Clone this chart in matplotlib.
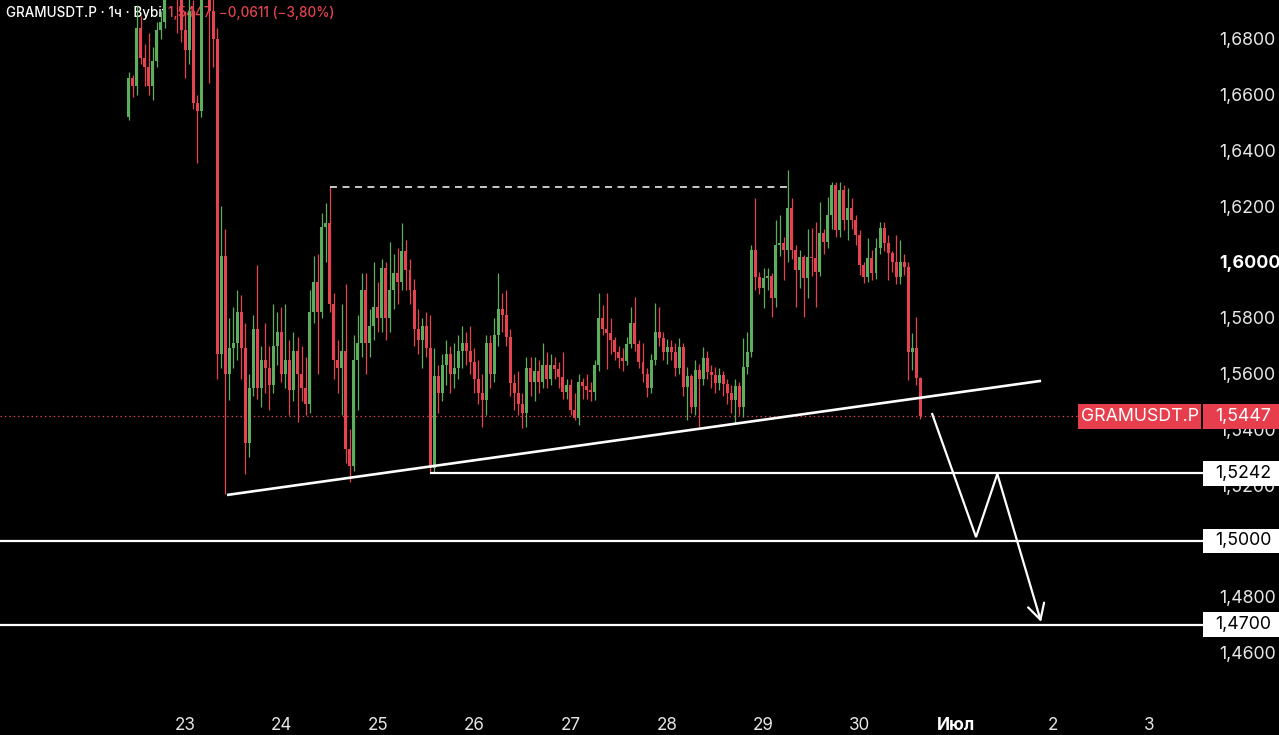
import numpy as np
import matplotlib
matplotlib.use('Agg')
import matplotlib.pyplot as plt
from matplotlib.patches import Rectangle
import matplotlib.transforms as mtransforms

plt.rcParams['font.family'] = ['Inter', 'DejaVu Sans']
plt.rcParams['lines.scale_dashes'] = False

# ---------------- data (hourly candles, hour 0 = 23 June 00:00) ----------------
first_open = 1.652
closes = [
    1.666, 1.663, 1.684, 1.673, 1.670, 1.663, 1.672, 1.683, 1.686, 1.697,
    1.704, 1.707, 1.698, 1.683,
    1.676, 1.690, 1.657, 1.654, 1.700, 1.705, 1.690, 1.680, 1.567, 1.602,
    1.560, 1.569, 1.571, 1.582, 1.569, 1.535, 1.555, 1.576, 1.555, 1.565,
    1.562, 1.556, 1.570, 1.575, 1.560, 1.565, 1.554, 1.568, 1.560, 1.555,
    1.549, 1.582, 1.593, 1.582, 1.6125, 1.614, 1.585, 1.565, 1.562, 1.568,
    1.533, 1.527, 1.565, 1.571, 1.590, 1.571, 1.577, 1.584, 1.580, 1.598,
    1.580, 1.590, 1.596, 1.593, 1.604, 1.597, 1.590, 1.576, 1.572, 1.577,
    1.569, 1.526, 1.559, 1.553, 1.563, 1.567, 1.560, 1.562, 1.568, 1.571,
    1.568, 1.564, 1.558, 1.553, 1.5505, 1.571, 1.560, 1.574, 1.583, 1.581,
    1.573, 1.5565, 1.553, 1.549, 1.546, 1.562, 1.557, 1.561, 1.557, 1.563,
    1.558, 1.563, 1.5615, 1.5588, 1.5534, 1.556, 1.547, 1.544, 1.557, 1.5557,
    1.554, 1.5535, 1.563, 1.580, 1.576, 1.5745, 1.572, 1.5677, 1.5656, 1.5645,
    1.5705, 1.578, 1.5705, 1.5642, 1.560, 1.5548, 1.5649, 1.575, 1.5728, 1.5677,
    1.5695, 1.5677, 1.562, 1.5695, 1.5552, 1.559, 1.548, 1.5613, 1.558, 1.5656,
    1.5605, 1.5595, 1.5566, 1.5595, 1.5563, 1.553, 1.5505, 1.5555, 1.548, 1.5623,
    1.5677, 1.6043, 1.5946, 1.5907, 1.5943, 1.595, 1.587, 1.6061, 1.6068, 1.6043,
    1.6194, 1.6043, 1.5971, 1.6018, 1.5943, 1.6018, 1.6014, 1.5964, 1.6104, 1.6072,
    1.6168, 1.6276, 1.6115, 1.6258, 1.6150, 1.6194, 1.6151, 1.6097, 1.5989, 1.5946,
    1.6014, 1.5961, 1.605, 1.6122, 1.6068, 1.6032, 1.600, 1.5946, 1.600, 1.5982,
    1.5677, 1.5690, 1.5584, 1.5447,
]
highs = [
    1.668, 1.667, 1.692, 1.688, 1.678, 1.682, 1.677, 1.686, 1.690, 1.703,
    1.712, 1.715, 1.710, 1.700,
    1.690, 1.699, 1.694, 1.660, 1.712, 1.715, 1.712, 1.700, 1.684, 1.620,
    1.612, 1.580, 1.584, 1.590, 1.588, 1.578, 1.560, 1.581, 1.599, 1.570,
    1.578, 1.570, 1.585, 1.582, 1.584, 1.585, 1.572, 1.575, 1.573, 1.570,
    1.566, 1.590, 1.602, 1.603, 1.6175, 1.621, 1.627, 1.589, 1.572, 1.585,
    1.592, 1.540, 1.574, 1.581, 1.596, 1.596, 1.583, 1.600, 1.593, 1.601,
    1.600, 1.607, 1.603, 1.605, 1.614, 1.608, 1.601, 1.594, 1.583, 1.580,
    1.582, 1.581, 1.569, 1.563, 1.567, 1.572, 1.570, 1.571, 1.574, 1.577,
    1.575, 1.577, 1.569, 1.565, 1.560, 1.574, 1.574, 1.580, 1.596, 1.589,
    1.590, 1.576, 1.560, 1.561, 1.553, 1.566, 1.566, 1.566, 1.565, 1.571,
    1.5677, 1.567, 1.566, 1.564, 1.5677, 1.558, 1.558, 1.553, 1.560, 1.5584,
    1.560, 1.557, 1.565, 1.589, 1.5845, 1.589, 1.580, 1.573, 1.570, 1.569,
    1.573, 1.5839, 1.5875, 1.572, 1.571, 1.562, 1.567, 1.5853, 1.5838, 1.575,
    1.5724, 1.572, 1.571, 1.5728, 1.571, 1.5625, 1.560, 1.565, 1.5635, 1.5695,
    1.568, 1.563, 1.5625, 1.562, 1.561, 1.558, 1.556, 1.558, 1.557, 1.5728,
    1.575, 1.6061, 1.623, 1.5964, 1.598, 1.598, 1.596, 1.6151, 1.6168, 1.609,
    1.6330, 1.6229, 1.606, 1.6043, 1.6025, 1.612, 1.6122, 1.6143, 1.6215, 1.612,
    1.6233, 1.6287, 1.6287, 1.6287, 1.6276, 1.6265, 1.623, 1.617, 1.6115, 1.600,
    1.6086, 1.6043, 1.6086, 1.6143, 1.6143, 1.6097, 1.604, 1.6097, 1.6079, 1.603,
    1.600, 1.5745, 1.5803, 1.5588,
]
lows = [
    1.651, 1.659, 1.660, 1.671, 1.663, 1.660, 1.658, 1.670, 1.680, 1.684,
    1.695, 1.699, 1.682, 1.679,
    1.666, 1.671, 1.655, 1.6355, 1.652, 1.695, 1.664, 1.670, 1.558, 1.562,
    1.517, 1.5505, 1.562, 1.565, 1.558, 1.524, 1.530, 1.552, 1.551, 1.548,
    1.553, 1.547, 1.553, 1.563, 1.557, 1.555, 1.545, 1.550, 1.5425, 1.550,
    1.545, 1.546, 1.578, 1.560, 1.580, 1.600, 1.582, 1.558, 1.553, 1.545,
    1.528, 1.521, 1.525, 1.547, 1.566, 1.560, 1.566, 1.572, 1.575, 1.575,
    1.572, 1.575, 1.583, 1.585, 1.590, 1.590, 1.585, 1.570, 1.567, 1.562,
    1.566, 1.5242, 1.5242, 1.546, 1.550, 1.556, 1.553, 1.555, 1.558, 1.562,
    1.563, 1.560, 1.553, 1.549, 1.541, 1.545, 1.555, 1.557, 1.570, 1.575,
    1.570, 1.552, 1.547, 1.545, 1.5405, 1.541, 1.552, 1.550, 1.553, 1.555,
    1.555, 1.556, 1.558, 1.555, 1.551, 1.551, 1.545, 1.5434, 1.5416, 1.551,
    1.551, 1.550, 1.5505, 1.561, 1.574, 1.5615, 1.567, 1.565, 1.562, 1.561,
    1.563, 1.569, 1.568, 1.562, 1.557, 1.5516, 1.553, 1.563, 1.570, 1.565,
    1.5634, 1.565, 1.559, 1.560, 1.552, 1.5434, 1.546, 1.545, 1.541, 1.556,
    1.558, 1.555, 1.553, 1.554, 1.552, 1.549, 1.546, 1.5423, 1.545, 1.5445,
    1.560, 1.566, 1.590, 1.5885, 1.5835, 1.590, 1.5803, 1.584, 1.602, 1.5935,
    1.600, 1.601, 1.584, 1.5907, 1.5803, 1.587, 1.595, 1.5839, 1.595, 1.603,
    1.605, 1.612, 1.609, 1.609, 1.6115, 1.6079, 1.612, 1.606, 1.5955, 1.5925,
    1.593, 1.5935, 1.594, 1.603, 1.604, 1.5935, 1.5964, 1.592, 1.592, 1.5955,
    1.5577, 1.5613, 1.556, 1.5437,
]
first_hour = -14
hours = np.arange(first_hour, first_hour + len(closes))
opens = [first_open] + closes[:-1]

day_ticks = [0, 24, 48, 72, 96, 120, 144, 168, 192, 216, 240]
day_labels = ['23', '24', '25', '26', '27', '28', '29', '30', 'Июл', '2', '3']
price_ticks = [1.46, 1.48, 1.50, 1.52, 1.54, 1.56, 1.58, 1.60, 1.62, 1.64, 1.66, 1.68]

level_values = [1.5242, 1.5000, 1.4700]
level_starts = [61.0, None, None]
last_price = 1.5447
symbol = 'GRAMUSDT.P'
title_left = 'GRAMUSDT.P · 1ч · Bybit'
title_right = '1,5447  −0,0611 (−3,80%)'

trend_x = [10.46, 213.1]
trend_y = [1.5165, 1.5574]
range_top = 1.627
range_x = [36.1, 150.1]
arrow_x = [186.0, 196.9, 202.2, 213.1]
arrow_y = [1.5455, 1.5014, 1.5240, 1.4710]

# ---------------- styling ----------------
UP = '#5cae5c'
DOWN = '#e5434f'
LABEL_RED = '#e63e4c'
BG = 'black'
W, H = 1279, 735
PANE_RIGHT = 1203
PANE_BOTTOM = 28
PRICE_FS = 12.8

fig = plt.figure(figsize=(W / 100, H / 100), dpi=100, facecolor=BG)
ax = fig.add_axes([0, PANE_BOTTOM / H, PANE_RIGHT / W, (H - PANE_BOTTOM) / H])
ax.set_facecolor(BG)
ax.set_xlim(-46.06, 253.4)
ax.set_ylim(1.4405, 1.6939)
for s in ax.spines.values():
    s.set_visible(False)

# candles
o = np.array(opens)
c = np.array(closes)
hi = np.array(highs)
lo = np.array(lows)
colors = [UP if cc >= oo else DOWN for oo, cc in zip(o, c)]
bottoms = np.minimum(o, c)
heights = np.maximum(np.abs(c - o), 0.0003)
ax.vlines(hours, lo, hi, colors=colors, linewidth=0.9, zorder=3)
ax.bar(hours, heights, bottom=bottoms, width=0.74, color=colors, linewidth=0, zorder=3.1)

# title (under the candles)
ty = 1 - 13 / (H - PANE_BOTTOM)
ax.text(6 / PANE_RIGHT, ty, title_left, transform=ax.transAxes,
        color='white', fontsize=9.7, fontweight='medium', va='center', ha='left', zorder=1)
ax.text(168 / PANE_RIGHT, ty, title_right, transform=ax.transAxes,
        color=DOWN, fontsize=9.7, fontweight='medium', va='center', ha='left', zorder=1)

# drawings
ax.plot(trend_x, trend_y, color='white', lw=1.9, zorder=4, solid_capstyle='butt')
ax.plot(range_x, [range_top, range_top], color='white', lw=1.1, zorder=4,
        linestyle=(0, (5, 4)))
for v, start in zip(level_values, level_starts):
    x0 = ax.get_xlim()[0] if start is None else start
    ax.plot([x0, ax.get_xlim()[1]], [v, v], color='white', lw=1.6, zorder=4,
            solid_capstyle='butt')
ax.axhline(last_price, xmin=0, xmax=1078 / PANE_RIGHT, color=DOWN, lw=0.9,
           linestyle=(0, (1, 2.2)), zorder=2)
ax.plot(arrow_x[:3], arrow_y[:3], color='white', lw=1.6, zorder=4,
        solid_joinstyle='miter')
ax.annotate('', xy=(arrow_x[3], arrow_y[3]), xytext=(arrow_x[2], arrow_y[2]),
            arrowprops=dict(arrowstyle='->,head_length=0.55,head_width=0.3', color='white',
                            lw=1.6, shrinkA=0, shrinkB=0, mutation_scale=20),
            zorder=4)

# axes ticks (the 1,5000 tick label is fully covered by its level box)
ax.yaxis.tick_right()
ax.set_yticks(price_ticks)
ax.set_yticklabels(['' if abs(v - 1.50) < 1e-9 else f'{v:.4f}'.replace('.', ',')
                    for v in price_ticks])
ax.tick_params(axis='y', length=0, pad=12, labelsize=PRICE_FS, labelcolor='#e6e6e6')
for t, v in zip(ax.get_yticklabels(), price_ticks):
    if abs(v - 1.60) < 1e-9:
        t.set_fontweight('bold')
        t.set_color('white')
ax.set_xticks(day_ticks)
ax.set_xticklabels(day_labels)
ax.tick_params(axis='x', length=0, pad=7, labelsize=12.3, labelcolor='#e6e6e6')
for t, lab in zip(ax.get_xticklabels(), day_labels):
    if lab == 'Июл':
        t.set_fontweight('bold')
        t.set_color('white')

# price labels on the scale
tr = mtransforms.blended_transform_factory(fig.transFigure, ax.transData)
px_per_unit = (H - PANE_BOTTOM) / (1.6939 - 1.4405)
box_h = 24.5 / px_per_unit
for v in level_values:
    ax.add_patch(Rectangle((1203 / W, v - box_h / 2), 76 / W, box_h, transform=tr,
                           facecolor='white', edgecolor='none', clip_on=False, zorder=6))
    ax.text(1215 / W, v, f'{v:.4f}'.replace('.', ','), transform=tr, color='black',
            fontsize=PRICE_FS, va='center', ha='left', zorder=7, clip_on=False)
ax.add_patch(Rectangle((1203 / W, last_price - box_h / 2), 76 / W, box_h, transform=tr,
                       facecolor=LABEL_RED, edgecolor='none', clip_on=False, zorder=6))
ax.text(1215 / W, last_price, f'{last_price:.4f}'.replace('.', ','), transform=tr,
        color='white', fontsize=PRICE_FS, va='center', ha='left', zorder=7, clip_on=False)
ax.add_patch(Rectangle((1078 / W, last_price - box_h / 2), 123 / W, box_h, transform=tr,
                       facecolor=LABEL_RED, edgecolor='none', clip_on=False, zorder=6))
ax.text(1139.5 / W, last_price, symbol, transform=tr, color='white', fontsize=PRICE_FS,
        va='center', ha='center', zorder=7, clip_on=False)

fig.savefig('out.png', dpi=100, facecolor=BG)
